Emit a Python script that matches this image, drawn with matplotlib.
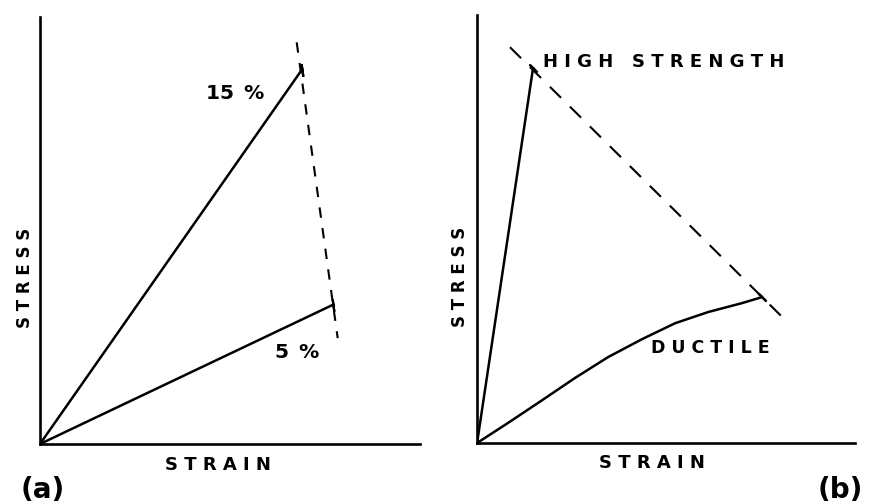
import numpy as np
import matplotlib.pyplot as plt

# --- data (arbitrary strain / stress units, 0..1) ---
# (a) two fibre contents, linear to failure
a_labels = ["15\u2002%", "5\u2002%"]
a_end_strain = [0.689, 0.771]
a_end_stress = [0.876, 0.326]
a_fail_strain = [0.676, 0.784]   # dashed failure envelope
a_fail_stress = [0.941, 0.248]

# (b) high strength vs ductile
hs_strain = [0.0, 0.148]
hs_stress = [0.0, 0.876]
duct_strain = [0.0, 0.082, 0.172, 0.259, 0.347, 0.437, 0.524, 0.611, 0.701, 0.754]
duct_stress = [0.0, 0.047, 0.100, 0.152, 0.201, 0.243, 0.280, 0.306, 0.327, 0.341]
b_fail_strain = [0.087, 0.810]
b_fail_stress = [0.925, 0.292]


def spaced(s):
    return " ".join(s)


fig = plt.figure(figsize=(8.69, 5.04), dpi=100)
lab = dict(fontsize=13, fontweight="bold", family="DejaVu Sans")


def setup(ax):
    ax.set_xlim(0, 1)
    ax.set_ylim(0, 1)
    for s in ("top", "right"):
        ax.spines[s].set_visible(False)
    for s in ("left", "bottom"):
        ax.spines[s].set_linewidth(1.9)
    ax.set_xticks([])
    ax.set_yticks([])
    ax.patch.set_alpha(0)


# ---- (a) ----
ax1 = fig.add_axes([0.046, 0.119, 0.437, 0.847])
setup(ax1)
ang = np.degrees(np.arctan2(a_fail_stress[1] - a_fail_stress[0],
                            (a_fail_strain[1] - a_fail_strain[0]) * 380 / 427))
for xe, ye in zip(a_end_strain, a_end_stress):
    ax1.plot([0, xe], [0, ye], color="black", lw=1.8, solid_capstyle="butt")
    ax1.plot([xe], [ye], marker=(2, 2, ang - 90), ms=9, mew=1.6, color="black")
ax1.plot(a_fail_strain, a_fail_stress, color="black", lw=1.5, ls=(0, (5, 5)))
ax1.text(0.513, 0.822, a_labels[0], ha="center", va="center",
         **{**lab, "fontsize": 14.5})
ax1.text(0.676, 0.215, a_labels[1], ha="center", va="center",
         **{**lab, "fontsize": 14.5})
ax1.text(0.468, -0.049, spaced("STRAIN"), transform=ax1.transAxes,
         ha="center", va="center", **lab)
ax1.text(-0.039, 0.389, spaced("STRESS"), transform=ax1.transAxes,
         ha="center", va="center", rotation=90, **{**lab, "fontsize": 12})

# ---- (b) ----
ax2 = fig.add_axes([0.549, 0.121, 0.435, 0.849])
setup(ax2)
angb = np.degrees(np.arctan2(b_fail_stress[1] - b_fail_stress[0],
                             (b_fail_strain[1] - b_fail_strain[0]) * 378 / 428))
ax2.plot(hs_strain, hs_stress, color="black", lw=1.8)
ax2.plot(duct_strain, duct_stress, color="black", lw=1.8)
for xe, ye in [(hs_strain[-1], hs_stress[-1]), (duct_strain[-1], duct_stress[-1])]:
    ax2.plot([xe], [ye], marker=(2, 2, angb - 90), ms=8, mew=1.6, color="black")
ax2.plot(b_fail_strain, b_fail_stress, color="black", lw=1.5, ls=(0, (7.5, 6)))
ax2.text(0.175, 0.890, spaced("HIGH") + "   " + spaced("STRENGTH"),
         ha="left", va="center", **lab)
ax2.text(0.616, 0.222, spaced("DUCTILE"), ha="center", va="center",
         **{**lab, "fontsize": 12.5})
ax2.text(0.463, -0.047, spaced("STRAIN"), transform=ax2.transAxes,
         ha="center", va="center", **lab)
ax2.text(-0.045, 0.388, spaced("STRESS"), transform=ax2.transAxes,
         ha="center", va="center", rotation=90, **{**lab, "fontsize": 12})

fig.text(0.049, 0.028, "(a)", ha="center", va="center", fontsize=20,
         fontweight="bold")
fig.text(0.967, 0.028, "(b)", ha="center", va="center", fontsize=20,
         fontweight="bold")

fig.savefig("out.png", dpi=100)
